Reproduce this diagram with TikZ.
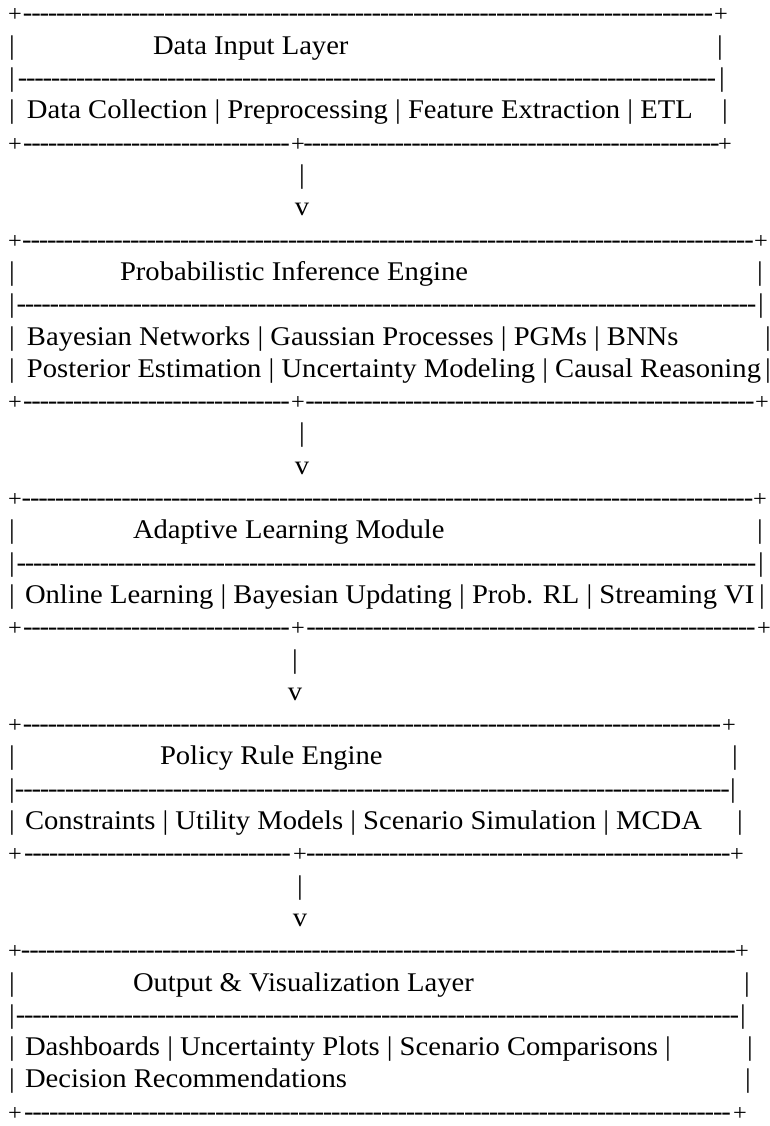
\documentclass[tikz,border=0pt]{standalone}
\usepackage{fontspec}
\setmainfont{Liberation Serif}[FakeStretch=1.06]

% one row of the ASCII layout every 32.3pt, first baseline at 22pt
\newcommand\rowy[1]{22+32.3*#1}
\newcommand\dashfill{\cleaders\hbox to 8.3pt{\hss-\hss}\hfill}
\newcommand\vbarat[3]{\node[glyph] (#1) at (#2,{\rowy{#3}}) {|};}
\newcommand\plusat[3]{\node[glyph] (#1) at (#2,{\rowy{#3}}) {\fontsize{23}{28}\selectfont+};}
\newcommand\arrowv[3]{\node[glyph] (#1) at (#2,{\rowy{#3}}) {v};}
\newcommand\dashesat[4]{\node[seg] (#1) at (#2,{\rowy{#4}}) {\hbox to \dimexpr#3pt-#2pt\relax{\dashfill}};}
\newcommand\textat[4]{\node[seg] (#1) at (#2,{\rowy{#3}}) {#4};}

\begin{document}
\begin{tikzpicture}[x=1pt,y=-1pt,
  every node/.style={inner sep=0pt,outer sep=0pt,font=\fontsize{27}{31}\selectfont},
  glyph/.style={anchor=base},
  seg/.style={anchor=base west}]
\useasboundingbox[fill=white] (0,0) rectangle (770,1126);

% ---------------- Data Input Layer ----------------
\plusat{a0l}{15}{0} \dashesat{a0d}{21}{715}{0} \plusat{a0r}{721}{0}
\vbarat{a1l}{12}{1} \textat{a1t}{153}{1}{Data Input Layer} \vbarat{a1r}{720}{1}
\vbarat{a2l}{12}{2} \dashesat{a2d}{15}{719}{2} \vbarat{a2r}{722}{2}
\vbarat{a3l}{12}{3} \textat{a3t}{27}{3}{Data Collection | Preprocessing | Feature Extraction | ETL} \vbarat{a3r}{725}{3}
\plusat{a4l}{15}{4} \dashesat{a4d}{21}{292}{4} \plusat{a4m}{298}{4} \dashesat{a4e}{304}{719}{4} \plusat{a4r}{725}{4}
\vbarat{c1}{302}{5}
\arrowv{c1v}{302}{6}

% ---------------- Probabilistic Inference Engine ----------------
\plusat{b0l}{15}{7} \dashesat{b0d}{21}{755}{7} \plusat{b0r}{761}{7}
\vbarat{b1l}{12}{8} \textat{b1t}{120}{8}{Probabilistic Inference Engine} \vbarat{b1r}{760}{8}
\vbarat{b2l}{12}{9} \dashesat{b2d}{15}{758}{9} \vbarat{b2r}{761}{9}
\vbarat{b3l}{12}{10} \textat{b3t}{27}{10}{Bayesian Networks | Gaussian Processes | PGMs | BNNs} \vbarat{b3r}{768}{10}
\vbarat{b4l}{12}{11} \textat{b4t}{27}{11}{Posterior Estimation | Uncertainty Modeling | Causal Reasoning} \vbarat{b4r}{768}{11}
\plusat{b5l}{15}{12} \dashesat{b5d}{21}{292}{12} \plusat{b5m}{298}{12} \dashesat{b5e}{304}{756}{12} \plusat{b5r}{762}{12}
\vbarat{c2}{302}{13}
\arrowv{c2v}{302}{14}

% ---------------- Adaptive Learning Module ----------------
\plusat{d0l}{15}{15} \dashesat{d0d}{21}{754}{15} \plusat{d0r}{760}{15}
\vbarat{d1l}{12}{16} \textat{d1t}{133}{16}{Adaptive Learning Module} \vbarat{d1r}{760}{16}
\vbarat{d2l}{12}{17} \dashesat{d2d}{15}{758}{17} \vbarat{d2r}{761}{17}
\vbarat{d3l}{12}{18} \textat{d3t}{25}{18}{Online Learning | Bayesian Updating | Prob. RL | Streaming VI} \vbarat{d3r}{762}{18}
\plusat{d4l}{15}{19} \dashesat{d4d}{21}{292}{19} \plusat{d4m}{298}{19} \dashesat{d4e}{304}{758}{19} \plusat{d4r}{764}{19}
\vbarat{c3}{295}{20}
\arrowv{c3v}{295}{21}

% ---------------- Policy Rule Engine ----------------
\plusat{e0l}{15}{22} \dashesat{e0d}{21}{723}{22} \plusat{e0r}{729}{22}
\vbarat{e1l}{12}{23} \textat{e1t}{160}{23}{Policy Rule Engine} \vbarat{e1r}{735}{23}
\vbarat{e2l}{12}{24} \dashesat{e2d}{15}{730}{24} \vbarat{e2r}{733}{24}
\vbarat{e3l}{12}{25} \textat{e3t}{25}{25}{Constraints | Utility Models | Scenario Simulation | MCDA} \vbarat{e3r}{740}{25}
\plusat{e4l}{15}{26} \dashesat{e4d}{21}{294}{26} \plusat{e4m}{300}{26} \dashesat{e4e}{306}{731}{26} \plusat{e4r}{737}{26}
\vbarat{c4}{300}{27}
\arrowv{c4v}{300}{28}

% ---------------- Output & Visualization Layer ----------------
\plusat{f0l}{15}{29} \dashesat{f0d}{21}{736}{29} \plusat{f0r}{742}{29}
\vbarat{f1l}{12}{30} \textat{f1t}{133}{30}{Output \& Visualization Layer} \vbarat{f1r}{747}{30}
\vbarat{f2l}{12}{31} \dashesat{f2d}{15}{740}{31} \vbarat{f2r}{743}{31}
\vbarat{f3l}{12}{32} \textat{f3t}{25}{32}{Dashboards | Uncertainty Plots | Scenario Comparisons |} \vbarat{f3r}{750}{32}
\vbarat{f4l}{12}{33} \textat{f4t}{25}{33}{Decision Recommendations} \vbarat{f4r}{748}{33}
\plusat{f5l}{15}{34} \dashesat{f5d}{21}{734}{34} \plusat{f5r}{740}{34}
\end{tikzpicture}
\end{document}
